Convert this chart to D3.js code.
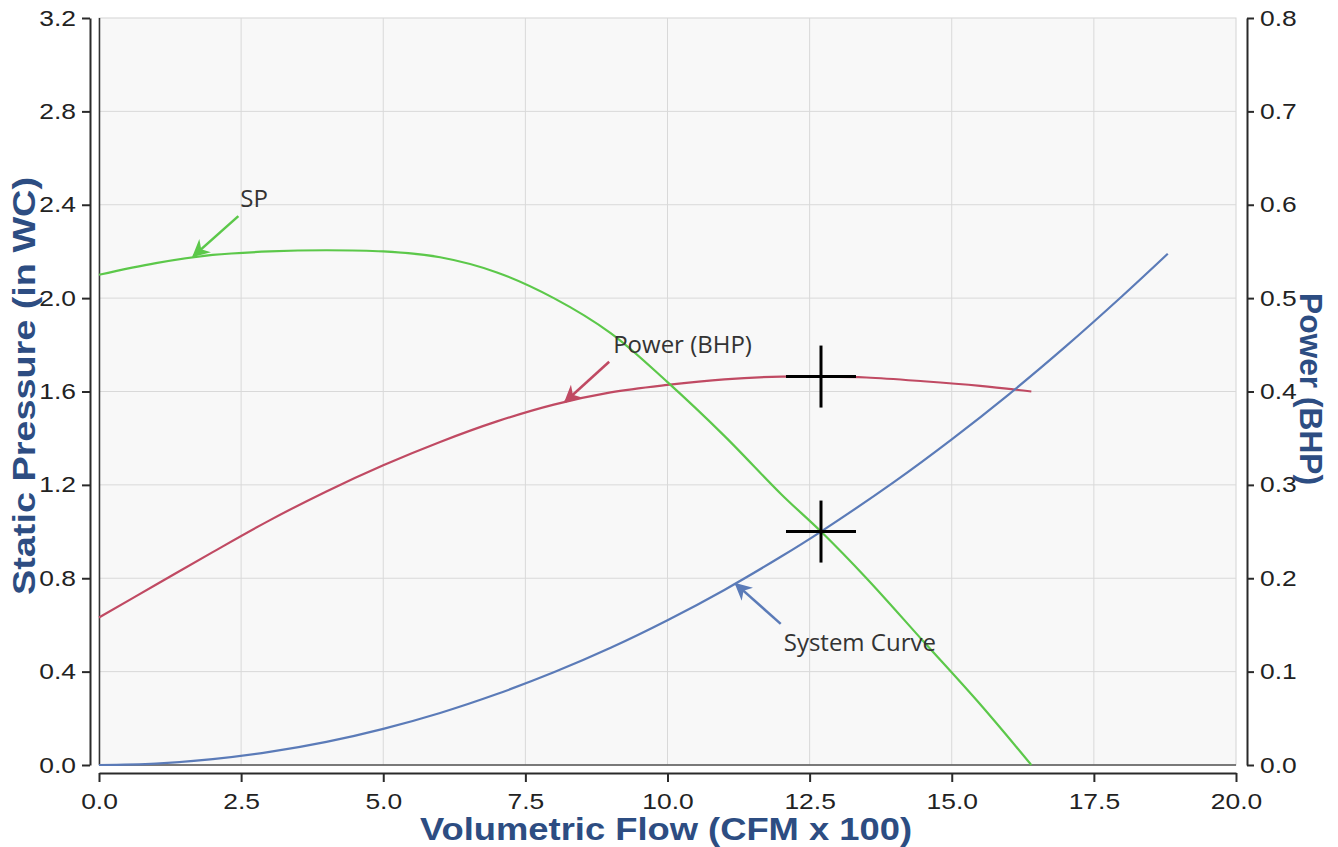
<!DOCTYPE html>
<html><head><meta charset="utf-8">
<script src="https://cdn.jsdelivr.net/npm/d3@7"></script>
<style>body{margin:0;background:#fff;}svg{display:block;}</style>
</head><body>
<svg id="c" width="1338" height="847"></svg>
<script>
// ---- data ----
const xTicks = [0, 2.5, 5, 7.5, 10, 12.5, 15, 17.5, 20];
const spTicks = [0, 0.4, 0.8, 1.2, 1.6, 2.0, 2.4, 2.8, 3.2];
const pwTicks = [0, 0.1, 0.2, 0.3, 0.4, 0.5, 0.6, 0.7, 0.8];

const spFlow  = [0, 1, 2, 3, 4, 5, 6, 7, 8, 9, 10, 11, 12, 12.7, 13.5, 14.5, 15.5, 16.4];
const spValue = [2.10, 2.15, 2.185, 2.20, 2.205, 2.20, 2.175, 2.11, 2.00, 1.85, 1.64, 1.41, 1.16, 1.0, 0.80, 0.53, 0.26, 0.0];

const pwFlow  = [0, 1, 2, 3, 4, 5, 6, 7, 8, 9, 10, 11, 12, 12.7, 13.5, 14.5, 15.5, 16.4];
const pwValue = [0.158, 0.193, 0.228, 0.262, 0.293, 0.321, 0.346, 0.368, 0.386, 0.399, 0.407, 0.413, 0.416, 0.416, 0.415, 0.411, 0.406, 0.400];

const sysFlow  = [0, 1, 2, 3, 4, 5, 6, 7, 8, 9, 10, 11, 12, 12.7, 14, 15, 16, 17, 18, 18.8];
const sysValue = [0, 0.006, 0.025, 0.056, 0.099, 0.155, 0.223, 0.304, 0.397, 0.502, 0.62, 0.75, 0.893, 1.0, 1.215, 1.395, 1.587, 1.792, 2.009, 2.19];

const opFlow = 12.7, opSP = 1.0, opPower = 0.416;

const notes = [
  {text: "SP", axis: "sp", x: 1.66, y: 2.18, dx: 45, dy: -40, tx: 47, ty: -49, color: "#5cc84a"},
  {text: "Power (BHP)", axis: "pw", x: 8.2, y: 0.389, dx: 44, dy: -40, tx: 48, ty: -49, color: "#c04a63"},
  {text: "System Curve", axis: "sp", x: 11.2, y: 0.776, dx: 45, dy: 40, tx: 48, ty: 67, color: "#5b7bb8"}
];

// ---- layout ----
const svg = d3.select("#c");
const L = 99, R = 1236, T = 18, B = 765;
const x = d3.scaleLinear().domain([0, 20]).range([L, R]);
const ySP = d3.scaleLinear().domain([0, 3.2]).range([B, T]);
const yPW = d3.scaleLinear().domain([0, 0.8]).range([B, T]);
const titleColor = "#2d4d82";

svg.append("rect").attr("x", L).attr("y", T).attr("width", R - L).attr("height", B - T)
  .attr("fill", "#f8f8f8").attr("stroke", "#d4d4d4");

const grid = svg.append("g").attr("stroke", "#d9d9d9").attr("stroke-width", 1);
xTicks.slice(1, -1).forEach(v => grid.append("line").attr("x1", x(v)).attr("x2", x(v)).attr("y1", T).attr("y2", B));
spTicks.slice(1, -1).forEach(v => grid.append("line").attr("x1", L).attr("x2", R).attr("y1", ySP(v)).attr("y2", ySP(v)));

svg.append("line").attr("x1", L + 0.5).attr("x2", L + 0.5).attr("y1", T).attr("y2", B).attr("stroke", "#333").attr("stroke-width", 1.5);
svg.append("line").attr("x1", L).attr("x2", R).attr("y1", B).attr("y2", B).attr("stroke", "#555").attr("stroke-width", 1.5);

// axes
function styleAxis(g) {
  g.selectAll("path").attr("stroke", "#2a2a2a").attr("stroke-width", 2);
  g.selectAll("line").attr("stroke", "#2a2a2a").attr("stroke-width", 2);
  g.selectAll("text").attr("fill", "#222").style("font-family", "'Liberation Sans', Arial, sans-serif").style("font-size", "22px")
    .each(function() {
      const w = this.getComputedTextLength();
      d3.select(this).attr("textLength", w * 1.2).attr("lengthAdjust", "spacingAndGlyphs");
    });
}
const fmt1 = d3.format(".1f");
const gx = svg.append("g").attr("transform", `translate(0,${B + 8})`)
  .call(d3.axisBottom(x).tickValues(xTicks).tickFormat(fmt1).tickSize(9).tickSizeOuter(0).tickPadding(11));
styleAxis(gx);
const gl = svg.append("g").attr("transform", `translate(${L - 9},0)`)
  .call(d3.axisLeft(ySP).tickValues(spTicks).tickFormat(fmt1).tickSize(8).tickSizeOuter(0).tickPadding(6));
styleAxis(gl);
const gr = svg.append("g").attr("transform", `translate(${R + 11},0)`)
  .call(d3.axisRight(yPW).tickValues(pwTicks).tickFormat(fmt1).tickSize(7).tickSizeOuter(0).tickPadding(6));
styleAxis(gr);

// axis titles
const tf = "'Liberation Sans', Arial, sans-serif";
function title(sel, len) {
  sel.attr("text-anchor", "middle").attr("fill", titleColor).style("font-family", tf).style("font-weight", "bold")
    .attr("textLength", len).attr("lengthAdjust", "spacingAndGlyphs");
}
svg.append("text").attr("x", 666).attr("y", 840).style("font-size", "32px")
  .call(title, 492).text("Volumetric Flow (CFM x 100)");
svg.append("text").attr("transform", `translate(35,386) rotate(-90)`).style("font-size", "31px")
  .call(title, 418).text("Static Pressure (in WC)");
svg.append("text").attr("transform", `translate(1300,389) rotate(90)`).style("font-size", "32px")
  .call(title, 192).text("Power (BHP)");

// curves
const lineSP = d3.line().x(d => x(d[0])).y(d => ySP(d[1])).curve(d3.curveCatmullRom);
const linePW = d3.line().x(d => x(d[0])).y(d => yPW(d[1])).curve(d3.curveCatmullRom);
svg.append("path").datum(pwFlow.map((f, i) => [f, pwValue[i]])).attr("d", linePW)
  .attr("fill", "none").attr("stroke", "#c04a63").attr("stroke-width", 2.2);
svg.append("path").datum(sysFlow.map((f, i) => [f, sysValue[i]])).attr("d", lineSP)
  .attr("fill", "none").attr("stroke", "#5b7bb8").attr("stroke-width", 2.2);
svg.append("path").datum(spFlow.map((f, i) => [f, spValue[i]])).attr("d", lineSP)
  .attr("fill", "none").attr("stroke", "#5cc84a").attr("stroke-width", 2.2);

// operating point crosses
function cross(cx, cy) {
  svg.append("line").attr("x1", cx - 35).attr("x2", cx + 35).attr("y1", cy).attr("y2", cy).attr("stroke", "#000").attr("stroke-width", 3);
  svg.append("line").attr("x1", cx).attr("x2", cx).attr("y1", cy - 31).attr("y2", cy + 31).attr("stroke", "#000").attr("stroke-width", 3);
}
cross(x(opFlow), yPW(opPower));
cross(x(opFlow), ySP(opSP));

// annotations
const defs = svg.append("defs");
notes.forEach((n, i) => {
  defs.append("marker").attr("id", "ah" + i).attr("viewBox", "0 0 10 10").attr("refX", 9).attr("refY", 5)
    .attr("markerWidth", 7).attr("markerHeight", 7).attr("orient", "auto").attr("markerUnits", "strokeWidth")
    .append("path").attr("d", "M0,0 L10,5 L0,10 L3,5 Z").attr("fill", n.color);
  const px = x(n.x), py = (n.axis === "sp" ? ySP : yPW)(n.y);
  svg.append("line").attr("x1", px + n.dx).attr("y1", py + n.dy).attr("x2", px).attr("y2", py)
    .attr("stroke", n.color).attr("stroke-width", 2.5).attr("marker-end", `url(#ah${i})`);
  svg.append("text").attr("x", px + n.tx).attr("y", py + n.ty).attr("fill", "#333")
    .style("font-family", "'Open Sans', 'Noto Sans', sans-serif").style("font-size", "24px").text(n.text);
});
</script>
</body></html>
